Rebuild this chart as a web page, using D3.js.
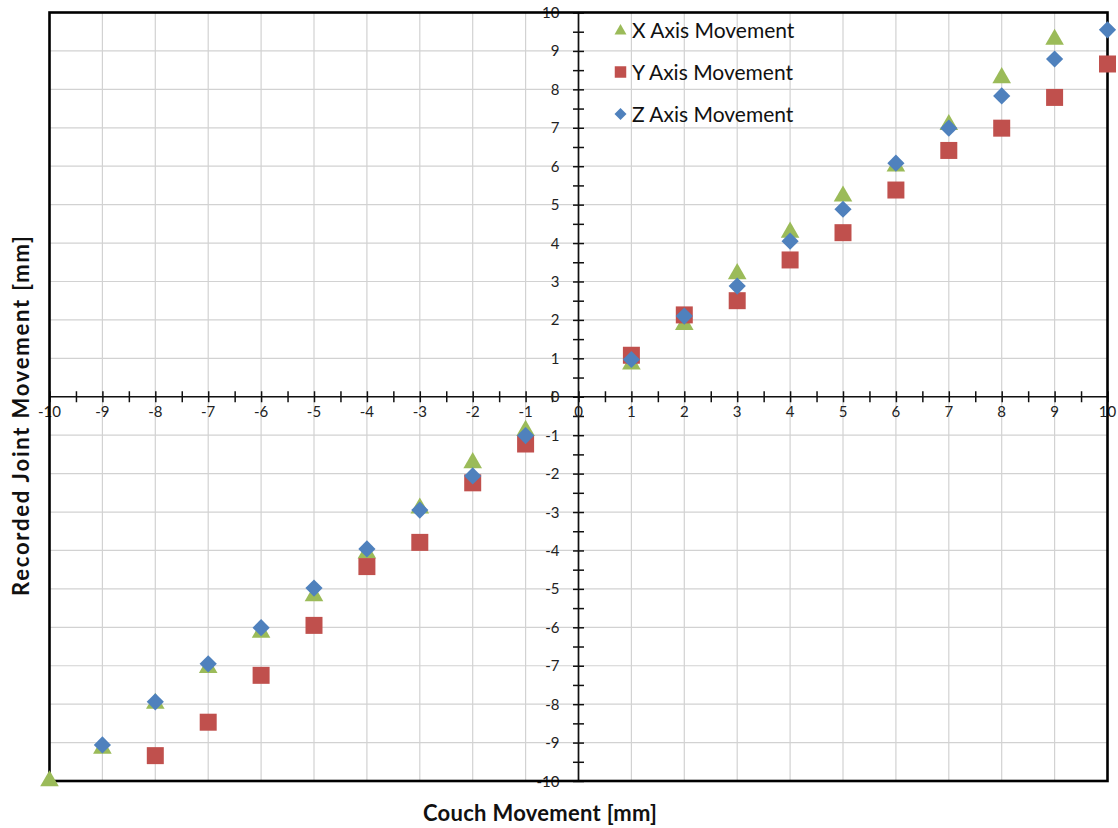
<!DOCTYPE html>
<html>
<head>
<meta charset="utf-8">
<script src="https://cdn.jsdelivr.net/npm/d3@7/dist/d3.min.js"></script>
<style>
  html, body { margin: 0; padding: 0; background: #fff; }
  svg { display: block; }
</style>
</head>
<body>
<svg id="chart" width="1118" height="828"></svg>
<script>
// Couch movement positions (mm)
const couch = [-10, -9, -8, -7, -6, -5, -4, -3, -2, -1, 1, 2, 3, 4, 5, 6, 7, 8, 9, 10];

// Recorded joint movement per axis (mm); null = outside the plotted range
const xMove = [-10, -9.15, -7.98, -7.05, -6.13, -5.18, -4.07, -2.9, -1.72, -0.88,
               0.85, 1.88, 3.2, 4.28, 5.22, 6.0, 7.08, 8.3, 9.3, null];
const yMove = [null, null, -9.34, -8.47, -7.25, -5.95, -4.42, -3.79, -2.24, -1.23,
               1.08, 2.13, 2.5, 3.56, 4.27, 5.38, 6.41, 6.99, 7.79, 8.66];
const zMove = [null, -9.06, -7.94, -6.95, -6.01, -4.98, -3.96, -2.95, -2.06, -1.01,
               0.97, 2.1, 2.88, 4.05, 4.88, 6.08, 6.99, 7.83, 8.79, 9.55];

const seriesNames = ["X Axis Movement", "Y Axis Movement", "Z Axis Movement"];
const seriesColors = ["#9BBB59", "#C0504D", "#4F81BD"];

const majorTicks = d3.range(-10, 11, 1);
const minorTicks = d3.range(-10, 10.01, 0.5);

const svg = d3.select("#chart");
const font = "Lato, 'Open Sans', sans-serif";

const x = d3.scaleLinear().domain([-10, 10]).range([49.5, 1107.5]);
const y = d3.scaleLinear().domain([-10, 10]).range([781, 12.5]);

// gridlines
const grid = svg.append("g");
grid.selectAll("line.gx").data(majorTicks).join("line")
  .attr("x1", d => x(d)).attr("x2", d => x(d))
  .attr("y1", y(10)).attr("y2", y(-10))
  .attr("stroke", "#d2d2d2").attr("stroke-width", 1.2);
grid.selectAll("line.gy").data(majorTicks).join("line")
  .attr("y1", d => y(d)).attr("y2", d => y(d))
  .attr("x1", x(-10)).attr("x2", x(10))
  .attr("stroke", "#d2d2d2").attr("stroke-width", 1.2);

// central axes crossing at zero, ticks crossing the line
const xAxis = d3.axisBottom(x).tickValues(minorTicks).tickSizeInner(11).tickSizeOuter(0).tickFormat("");
svg.append("g")
  .attr("transform", `translate(0,${y(0) - 5.5})`)
  .call(xAxis)
  .call(g => g.select(".domain").remove())
  .call(g => g.selectAll(".tick line").attr("stroke", "#111").attr("stroke-width", 1.5));
svg.append("line")
  .attr("x1", x(-10)).attr("x2", x(10)).attr("y1", y(0)).attr("y2", y(0))
  .attr("stroke", "#111").attr("stroke-width", 1.7);

const yAxis = d3.axisRight(y).tickValues(minorTicks).tickSizeInner(11).tickSizeOuter(0).tickFormat("");
svg.append("g")
  .attr("transform", `translate(${x(0) - 5.5},0)`)
  .call(yAxis)
  .call(g => g.select(".domain").remove())
  .call(g => g.selectAll(".tick line").attr("stroke", "#111").attr("stroke-width", 1.5));
svg.append("line")
  .attr("x1", x(0)).attr("x2", x(0)).attr("y1", y(10)).attr("y2", y(-10))
  .attr("stroke", "#111").attr("stroke-width", 1.7);

// tick labels
svg.append("g").selectAll("text").data(majorTicks).join("text")
  .attr("x", d => x(d)).attr("y", y(0) + 20)
  .attr("text-anchor", "middle")
  .attr("font-family", font).attr("font-size", 15).attr("fill", "#222")
  .text(d => d);
svg.append("g").selectAll("text").data(majorTicks).join("text")
  .attr("x", x(0) - 19).attr("y", d => y(d) + 5.5)
  .attr("text-anchor", "end")
  .attr("font-family", font).attr("font-size", 15).attr("fill", "#222")
  .text(d => d);

// plot border
svg.append("rect")
  .attr("x", x(-10)).attr("y", y(10))
  .attr("width", x(10) - x(-10)).attr("height", y(-10) - y(10))
  .attr("fill", "none").attr("stroke", "#000").attr("stroke-width", 2.6);

// markers
const triangle = d3.symbol().type(d3.symbolTriangle);
const square = d3.symbol().type(d3.symbolSquare);
const diamondPath = s => `M0,${-s}L${s},0L0,${s}L${-s},0Z`;

const markers = svg.append("g");
function points(values) {
  return couch.map((c, i) => ({ c, v: values[i] })).filter(d => d.v !== null);
}
markers.append("g").selectAll("path").data(points(xMove)).join("path")
  .attr("d", triangle.size(150)())
  .attr("transform", d => `translate(${x(d.c)},${y(d.v)})`)
  .attr("fill", seriesColors[0]);
markers.append("g").selectAll("path").data(points(yMove)).join("path")
  .attr("d", square.size(289)())
  .attr("transform", d => `translate(${x(d.c)},${y(d.v)})`)
  .attr("fill", seriesColors[1]);
markers.append("g").selectAll("path").data(points(zMove)).join("path")
  .attr("d", diamondPath(8.6))
  .attr("transform", d => `translate(${x(d.c)},${y(d.v)})`)
  .attr("fill", seriesColors[2]);

// legend
const legend = svg.append("g");
const legendSymbols = [triangle.size(62)(), square.size(132)(), diamondPath(6)];
seriesNames.forEach((name, i) => {
  const ly = 30 + i * 42;
  legend.append("path")
    .attr("d", legendSymbols[i])
    .attr("transform", `translate(620.5,${ly + (i === 0 ? 1 : 0)})`)
    .attr("fill", seriesColors[i]);
  legend.append("text")
    .attr("x", 632).attr("y", ly + 7.5)
    .attr("font-family", font).attr("font-size", 21).attr("fill", "#111")
    .text(name);
});

// axis titles
svg.append("text")
  .attr("x", 540).attr("y", 821)
  .attr("text-anchor", "middle")
  .attr("font-family", font).attr("font-weight", "bold").attr("font-size", 22).attr("fill", "#111")
  .attr("textLength", 234).attr("lengthAdjust", "spacing")
  .text("Couch Movement [mm]");
svg.append("text")
  .attr("transform", "translate(29,416) rotate(-90)")
  .attr("text-anchor", "middle")
  .attr("font-family", font).attr("font-weight", "bold").attr("font-size", 22).attr("fill", "#111")
  .attr("textLength", 360).attr("lengthAdjust", "spacing")
  .text("Recorded Joint Movement [mm]");
</script>
</body>
</html>
